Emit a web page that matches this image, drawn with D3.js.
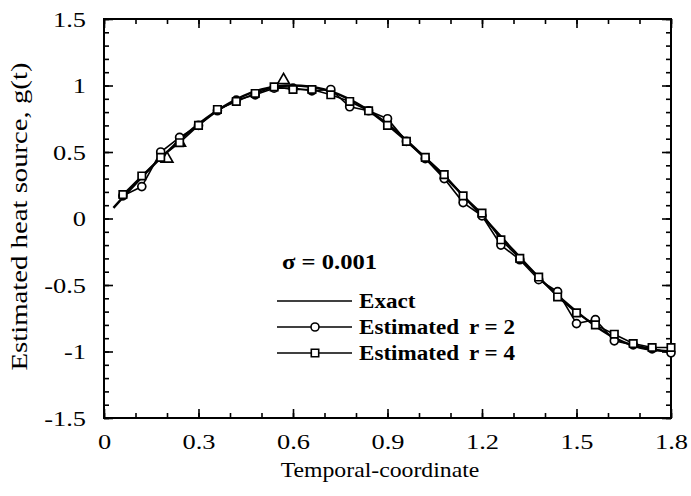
<!DOCTYPE html>
<html>
<head>
<meta charset="utf-8">
<script src="https://cdn.jsdelivr.net/npm/d3@7"></script>
<style>
    html, body { margin: 0; padding: 0; background: #fff; }
    svg { display: block; font-family: 'Liberation Serif', 'Times New Roman', serif; }
</style>
</head>
<body>
<svg id="chart" width="691" height="496"></svg>
<script>
'use strict';

// exact heat source
var exactT = [0.03, 0.1, 0.2, 0.3, 0.4, 0.5, 0.6, 0.7, 0.8, 0.9, 1.0,
    1.1, 1.2, 1.3, 1.4, 1.5, 1.6, 1.7, 1.8];
var exactG = [0.08, 0.26, 0.50, 0.71, 0.87, 0.97, 1.00, 0.97, 0.87, 0.71, 0.50,
    0.27, 0.02, -0.24, -0.49, -0.70, -0.87, -0.97, -1.00];

// estimated, sampled every 0.06
var estT = [0.06, 0.12, 0.18, 0.24, 0.30, 0.36, 0.42, 0.48, 0.54, 0.60,
    0.66, 0.72, 0.78, 0.84, 0.90, 0.96, 1.02, 1.08, 1.14, 1.20,
    1.26, 1.32, 1.38, 1.44, 1.50, 1.56, 1.62, 1.68, 1.74, 1.80];
var r2G = [0.17, 0.24, 0.50, 0.61, 0.70, 0.81, 0.89, 0.93, 0.98, 0.98,
    0.96, 0.97, 0.84, 0.81, 0.75, 0.58, 0.45, 0.30, 0.12, 0.02,
    -0.20, -0.31, -0.46, -0.55, -0.79, -0.76, -0.92, -0.95, -0.98, -1.01];
var r4G = [0.18, 0.32, 0.46, 0.57, 0.70, 0.82, 0.88, 0.94, 0.99, 0.97,
    0.97, 0.93, 0.88, 0.81, 0.70, 0.58, 0.46, 0.33, 0.17, 0.04,
    -0.16, -0.30, -0.44, -0.59, -0.71, -0.80, -0.87, -0.94, -0.97, -0.97];

// stray triangle markers seen in the figure
var triT = [0.20, 0.24, 0.57];
var triG = [0.45, 0.57, 1.04];

var xTicks = [0, 0.3, 0.6, 0.9, 1.2, 1.5, 1.8];
var yTicks = [-1.5, -1, -0.5, 0, 0.5, 1, 1.5];

var legendLabels = [['Exact'], ['Estimated', 'r = 2'], ['Estimated', 'r = 4']];
var sigmaLabel = '\u03c3 = 0.001';

var margin = {left: 104, top: 19, right: 20, bottom: 78},
    width = 691 - margin.left - margin.right,
    height = 496 - margin.top - margin.bottom;

var svg = d3.select('#chart');
var g = svg.append('g')
    .attr('transform', 'translate(' + margin.left + ',' + margin.top + ')');

var x = d3.scaleLinear().domain([0, 1.8]).range([0, width]),
    y = d3.scaleLinear().domain([-1.5, 1.5]).range([height, 0]);

function fmt(v) {
    return v === 0 ? '0' : String(v);
}

var minorX = d3.range(0, 19).map(function(i) { return i / 10; }),
    minorY = d3.range(-15, 16).map(function(i) { return i / 10; });

function inner(axis, len) {
    return axis.tickSizeInner(len).tickSizeOuter(0).tickPadding(8);
}

// minor ticks on all four sides, pointing in
g.append('g').attr('transform', 'translate(0,' + height + ')')
    .call(inner(d3.axisBottom(x).tickValues(minorX), -5).tickFormat(''));
g.append('g')
    .call(inner(d3.axisTop(x).tickValues(minorX), -5).tickFormat(''));
g.append('g')
    .call(inner(d3.axisLeft(y).tickValues(minorY), -5).tickFormat(''));
g.append('g').attr('transform', 'translate(' + width + ',0)')
    .call(inner(d3.axisRight(y).tickValues(minorY), -5).tickFormat(''));

// major ticks with labels
var xAxis = g.append('g').attr('class', 'x-axis')
    .attr('transform', 'translate(0,' + height + ')')
    .call(inner(d3.axisBottom(x).tickValues(xTicks), -9).tickFormat(fmt).tickPadding(15));
var yAxis = g.append('g').attr('class', 'y-axis')
    .call(inner(d3.axisLeft(y).tickValues(yTicks), -9).tickFormat(fmt).tickPadding(18));
g.append('g')
    .call(inner(d3.axisTop(x).tickValues(xTicks), -9).tickFormat(''));
g.append('g').attr('transform', 'translate(' + width + ',0)')
    .call(inner(d3.axisRight(y).tickValues(yTicks), -9).tickFormat(''));

g.selectAll('.domain').remove();
g.selectAll('.tick line').attr('stroke', '#000').attr('stroke-width', 1.6);
g.selectAll('.tick text')
    .attr('fill', '#000')
    .style('font-size', '22px')
    .style('font-family', "'Liberation Serif', serif");

// the scanned lettering is wider than the plain font
var sx = 1.2;
xAxis.selectAll('.tick text').attr('transform', 'scale(' + sx + ',1)');
yAxis.selectAll('.tick text')
    .attr('x', -18 / sx)
    .attr('transform', 'scale(' + sx + ',1)');

// frame
g.append('rect')
    .attr('width', width).attr('height', height)
    .attr('fill', 'none').attr('stroke', '#000').attr('stroke-width', 2);

// lines
var line = d3.line()
    .x(function(d) { return x(d[0]); })
    .y(function(d) { return y(d[1]); });

function pairs(ts, vs) {
    return ts.map(function(t, i) { return [t, vs[i]]; });
}

var exactData = pairs(exactT, exactG),
    r2Data = pairs(estT, r2G),
    r4Data = pairs(estT, r4G),
    triData = pairs(triT, triG);

g.append('path').datum(r2Data)
    .attr('d', line).attr('fill', 'none').attr('stroke', '#000').attr('stroke-width', 1.6);
g.append('path').datum(r4Data)
    .attr('d', line).attr('fill', 'none').attr('stroke', '#000').attr('stroke-width', 1.6);
g.append('path').datum(exactData)
    .attr('d', line.curve(d3.curveMonotoneX)).attr('fill', 'none')
    .attr('stroke', '#000').attr('stroke-width', 2.4);
line.curve(d3.curveLinear);

var circleSym = d3.symbol().type(d3.symbolCircle).size(50),
    squareSym = d3.symbol().type(d3.symbolSquare).size(55),
    triSym = d3.symbol().type(d3.symbolTriangle).size(60);

function markers(data, sym) {
    g.append('g').selectAll('path')
        .data(data)
        .enter().append('path')
            .attr('transform', function(d) {
                return 'translate(' + x(d[0]) + ',' + y(d[1]) + ')';
            })
            .attr('d', sym)
            .attr('fill', '#fff')
            .attr('stroke', '#000')
            .attr('stroke-width', 1.7);
}

markers(triData, triSym);
markers(r2Data, circleSym);
markers(r4Data, squareSym);

// axis titles
svg.append('text')
    .attr('transform', 'translate(380,477) scale(1.08,1)')
    .attr('text-anchor', 'middle')
    .style('font-size', '22px')
    .text('Temporal-coordinate');

svg.append('text')
    .attr('transform', 'translate(27,' + (margin.top + height / 2 - 2) + ') rotate(-90) scale(1.25,1)')
    .attr('text-anchor', 'middle')
    .style('font-size', '23px')
    .text('Estimated heat source, g(t)');

// legend
var legend = svg.append('g').attr('transform', 'translate(277,0)');

legend.append('text')
    .attr('transform', 'translate(5,269) scale(1.12,1)')
    .style('font-size', '22px').style('font-weight', 'bold')
    .text(sigmaLabel);

var rowY = [301, 327, 353],
    rowSym = [null, circleSym, squareSym];

legendLabels.forEach(function(parts, i) {
    var ry = rowY[i];
    legend.append('line')
        .attr('x1', 0).attr('x2', 75)
        .attr('y1', ry).attr('y2', ry)
        .attr('stroke', '#000').attr('stroke-width', 1.6);
    if(rowSym[i]) {
        legend.append('path')
            .attr('transform', 'translate(38,' + ry + ')')
            .attr('d', rowSym[i])
            .attr('fill', '#fff').attr('stroke', '#000').attr('stroke-width', 1.6);
    }
    parts.forEach(function(p, j) {
        legend.append('text')
            .attr('transform', 'translate(' + (j === 0 ? 82 : 192) + ',' + (ry + 7) + ') scale(1.05,1)')
            .style('font-size', '22px').style('font-weight', 'bold')
            .text(p);
    });
});
</script>
</body>
</html>
